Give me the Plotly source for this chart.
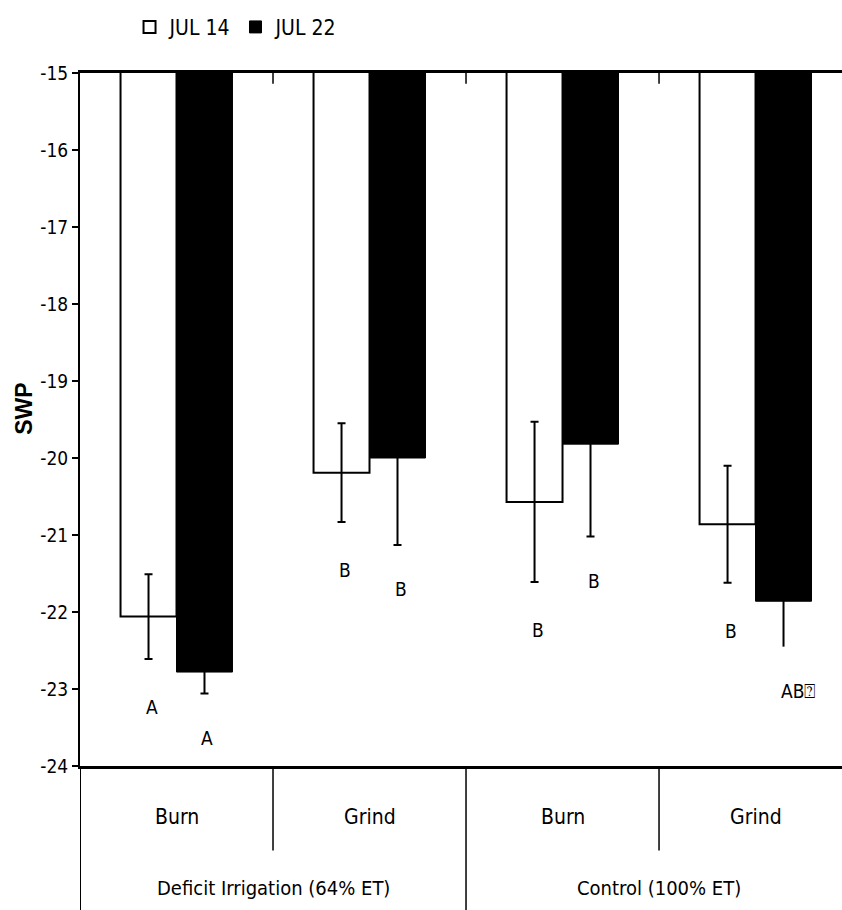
import plotly.graph_objects as go

# ---- data ----
groups = ["Deficit Irrigation (64% ET)", "Control (100% ET)"]
treatments = ["Burn", "Grind", "Burn", "Grind"]
series_names = ["JUL 14", "JUL 22"]
jul14 = [-22.06, -20.19, -20.57, -20.86]
jul22 = [-22.78, -20.00, -19.82, -21.86]
jul14_err = [0.55, 0.64, 1.04, 0.76]
jul22_err = [0.28, 1.13, 1.20, 0.59]
letters14 = ["A", "B", "B", "B"]
letters22 = ["A", "B", "B", "AB\u2370"]
y_ticks = list(range(-24, -14))
y_tick_labels = [str(v) for v in y_ticks]
y_title = "SWP"

NARROW = "Liberation Sans Narrow, Arial Narrow, DejaVu Sans Condensed, sans-serif"
BW = 0.29
xs = list(range(len(treatments)))

fig = go.Figure()
fig.add_trace(go.Bar(
    x=xs, y=jul14, name=series_names[0], width=BW, offset=-BW,
    marker=dict(color="white", line=dict(color="black", width=2)),
    error_y=dict(type="data", array=jul14_err, color="black", thickness=2, width=4),
))
fig.add_trace(go.Bar(
    x=xs[:3], y=jul22[:3], name=series_names[1], width=BW, offset=0,
    marker=dict(color="black", line=dict(color="black", width=1)),
    error_y=dict(type="data", array=jul22_err[:3], color="black", thickness=2, width=4),
))
fig.add_trace(go.Bar(
    x=xs[3:], y=jul22[3:], name=series_names[1], width=BW, offset=0, showlegend=False,
    marker=dict(color="black", line=dict(color="black", width=1)),
    error_y=dict(type="data", array=jul22_err[3:], color="black", thickness=2, width=0),
))

# significance letters
for i in xs:
    fig.add_annotation(x=i - BW / 2, y=jul14[i] - jul14_err[i], text=letters14[i],
                       showarrow=False, xanchor="left", yanchor="middle",
                       xshift=-5, yshift=-48, font=dict(family=NARROW, size=19, color="black"))
    fig.add_annotation(x=i + BW / 2, y=jul22[i] - jul22_err[i], text=letters22[i],
                       showarrow=False, xanchor="left", yanchor="middle",
                       xshift=-5, yshift=-44, font=dict(family=NARROW, size=19, color="black"))

# top ticks at category boundaries
for b in [0.5, 1.5, 2.5]:
    fig.add_shape(type="line", xref="x", yref="y", x0=b, x1=b, y0=-15, y1=-15.14,
                  line=dict(color="black", width=1.5))

# category table below the plot
fig.add_shape(type="line", xref="x", yref="paper", x0=-0.5, x1=-0.5, y0=0, y1=-0.21,
              line=dict(color="black", width=2))
for b in [0.5, 2.5]:
    fig.add_shape(type="line", xref="x", yref="paper", x0=b, x1=b, y0=0, y1=-0.122,
                  line=dict(color="black", width=1.5))
fig.add_shape(type="line", xref="x", yref="paper", x0=1.5, x1=1.5, y0=0, y1=-0.21,
              line=dict(color="black", width=1.5))
for i, t in enumerate(treatments):
    fig.add_annotation(x=i, y=-0.074, xref="x", yref="paper", text=t, showarrow=False,
                       yanchor="middle", font=dict(family=NARROW, size=21, color="black"))
for g, name in enumerate(groups):
    fig.add_annotation(x=2 * g + 0.5, y=-0.176, xref="x", yref="paper", text=name,
                       showarrow=False, yanchor="middle",
                       font=dict(family=NARROW, size=20, color="black"))

# y-axis title
fig.add_annotation(x=-0.074, y=0.515, xref="paper", yref="paper", text="<b>" + y_title + "</b>",
                   textangle=-90, showarrow=False, xanchor="center", yanchor="middle",
                   font=dict(family="Liberation Sans, Arial, sans-serif", size=23, color="black"))

fig.update_layout(
    width=842, height=910,
    margin=dict(l=80, r=0, t=73, b=144),
    paper_bgcolor="white", plot_bgcolor="white",
    barmode="overlay",
    showlegend=True,
    legend=dict(orientation="h", x=0.065, y=1.066, xanchor="left", yanchor="middle",
                font=dict(family=NARROW, size=21, color="black"),
                itemwidth=30, tracegroupgap=0, bgcolor="rgba(0,0,0,0)"),
    xaxis=dict(range=[-0.5, 3.448], showticklabels=False, ticks="", showgrid=False,
               zeroline=False, showline=True, mirror=True, linecolor="black", linewidth=3),
    yaxis=dict(range=[-24, -15], tickvals=y_ticks, ticktext=y_tick_labels,
               ticks="outside", ticklen=6,
               tickwidth=1.5, tickcolor="black", showgrid=False, zeroline=False,
               showline=True, linecolor="black", linewidth=2,
               tickfont=dict(family=NARROW, size=19, color="black")),
)

fig.write_html("out.html")
